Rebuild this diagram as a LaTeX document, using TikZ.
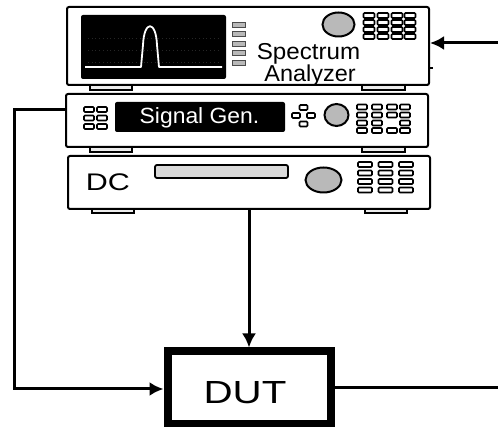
\documentclass[tikz,border=0pt]{standalone}
\usepackage{fontspec}
\usepackage{graphicx}
\setmainfont{Liberation Sans}
\usetikzlibrary{arrows.meta}
\begin{document}
\begin{tikzpicture}[x=1pt,y=-1pt,
  chassis/.style={draw=black, line width=2pt, rounded corners=2pt, fill=white, inner sep=0pt},
  foot/.style={draw=black, line width=1.3pt, fill=gray!15},
  key/.style={draw=black, line width=1.6pt, fill=white, rounded corners=1pt},
  softkey/.style={draw=black!70, line width=1pt, fill=gray!55},
  knob/.style={draw=black, line width=2pt, fill=gray!55},
  screen/.style={fill=black, rounded corners=2pt},
  conn/.style={line width=3pt},
  tip/.style={-{Latex[length=14pt,width=14pt]}},
  txt/.style={inner sep=0pt, anchor=base}
]
\useasboundingbox[fill=white] (0,0) rectangle (498,427);

% ---------- feet under each instrument ----------
\draw[foot] (90,84) rectangle (132,90);
\draw[foot] (362,84) rectangle (405,90);
\draw[foot] (90,146) rectangle (132,152);
\draw[foot] (362,146) rectangle (405,152);
\draw[foot] (92,208) rectangle (134,213);
\draw[foot] (365,208) rectangle (407,213);

% ---------- instrument cases ----------
\node[chassis, minimum width=362pt, minimum height=78pt] (sa) at (248,46) {};
\node[chassis, minimum width=362pt, minimum height=53pt] (sg) at (247,120.5) {};
\node[chassis, minimum width=362pt, minimum height=53pt] (dc) at (249,182.5) {};

% ---------- spectrum analyzer front panel ----------
\fill[screen] (81,15) rectangle (226,79);
\foreach \yy in {38,50,62}
  \draw[gray!30!black, line width=0.7pt, dash pattern=on 0.7pt off 3pt] (88,\yy) -- (220,\yy);
\draw[white, line width=1.8pt, line join=round]
  (85,67) -- (141,67) -- (143,45) .. controls (144,20) and (156,20) .. (157,45) -- (159,67) -- (222,67);
\foreach \yy in {25,34.5,44,53.5,63}
  \draw[softkey] (232,\yy-2.5) rectangle ++(13,5);
\draw[knob] (338.5,24.5) ellipse [x radius=16pt, y radius=12pt];
\foreach \cx in {369,383,397,410}
  \foreach \cy in {15.5,22.5,29.5,36.5}
    \draw[key] (\cx-5.5,\cy-2.5) rectangle ++(11,5);
\node[txt] (saname1) at (308.5,60) {\fontsize{23}{23}\selectfont\scalebox{1.05}[1]{Spectrum}};
\node[txt] (saname2) at (310,82) {\fontsize{23}{23}\selectfont\scalebox{1.02}[1]{Analyzer}};
\draw[line width=1.2pt] (sa.east |- 0,68) -- ++(2.5,0);

% ---------- signal generator front panel ----------
\foreach \cx in {89,102}
  \foreach \cy in {109.5,118,126.5}
    \draw[key] (\cx-5,\cy-2.5) rectangle ++(10,5);
\fill[screen] (115,102) rectangle (285,132);
\node[txt, text=white] (sgname) at (199.5,124)
  {\fontsize{22}{22}\selectfont\scalebox{1.04}[1]{Signal Gen.}};
\foreach \cx/\cy in {303.5/107.5, 296/115.5, 311/115.5, 303.5/124}
  \draw[key] (\cx-4,\cy-2.5) rectangle ++(8,5);
\draw[knob] (336.5,115) ellipse [x radius=12pt, y radius=11pt];
\foreach \cx/\cy in {362/107,377/107,392/107,405/107,
                     362/115,377/115,392/115,405/115,
                     362/123,377/123,405/123,
                     362/130.5,377/130.5,392/130.5,405/130.5}
  \draw[key] (\cx-5,\cy-2.5) rectangle ++(10,5);

% ---------- DC supply front panel ----------
\node[txt] (dcname) at (108,190.5) {\fontsize{24}{24}\selectfont\scalebox{1.27}[1]{DC}};
\draw[draw=black, line width=1.8pt, fill=gray!30, rounded corners=2pt] (155,165) rectangle (288,178);
\draw[knob] (323.5,180) ellipse [x radius=18pt, y radius=12.5pt];
\foreach \cx in {365,385.5,406}
  \foreach \cy in {164.5,173,181.5,190}
    \draw[key] (\cx-7,\cy-2.5) rectangle ++(14,5);

% ---------- device under test ----------
\node[draw=black, line width=8pt, fill=white, minimum width=163.5pt, minimum height=72.5pt, inner sep=0pt]
  (dut) at (249.25,387.75) {};
\node[txt] (dutname) at (245,403) {\fontsize{32}{32}\selectfont\scalebox{1.26}[1]{DUT}};

% ---------- connections ----------
\coordinate (saIn) at (498,43);
\coordinate (dutOut) at (498,388);
\draw[conn, tip] (saIn) -- (sa.east |- saIn);
\draw[conn, tip] (dc.south) -- (dc.south |- dut.north);
\draw[conn, tip] (sg.west |- 0,110) -- (14,110) -- (14,389) -- (dut.west |- 0,389);
\draw[conn] (dut.east |- dutOut) -- (dutOut);
\end{tikzpicture}
\end{document}
